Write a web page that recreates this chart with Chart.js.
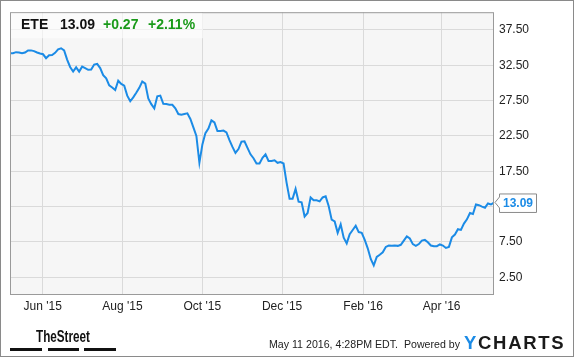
<!DOCTYPE html>
<html>
<head>
<meta charset="utf-8">
<script src="https://cdn.jsdelivr.net/npm/chart.js@4.4.1/dist/chart.umd.min.js"></script>
<style>
  body { margin: 0; background: #fff; }
  canvas { display: block; }
</style>
</head>
<body>
<canvas id="ete_chart" width="575" height="358"></canvas>
<script>
// ETE price, one reading roughly every 2.3 days from May 7 2015 to May 11 2016
const startDate = '2015-05-07';
const endDate = '2016-05-11';
const prices = [
  34.2, 34.2, 34.35, 34.3, 34.2, 34.3, 34.6, 34.6, 34.5, 34.3,
  34.15, 34.05, 33.5, 33.9, 33.95, 34.25, 34.75, 34.9, 34.6, 33.3,
  32.25, 31.6, 32.2, 31.6, 32.3, 32.1, 31.85, 31.9, 32.6, 32.7,
  32.1, 31.1, 30.65, 29.65, 29.35, 29.0, 30.3, 29.85, 29.6, 28.2,
  27.4, 27.95, 28.6, 29.3, 30.2, 29.9, 27.8, 27.0, 26.4, 28.1,
  28.2, 27.05, 27.0, 26.9, 26.9, 26.4, 25.6, 25.5, 25.6, 25.7,
  24.9, 23.7, 22.5, 18.7, 21.3, 22.9, 23.55, 24.7, 24.4, 23.2,
  23.2, 23.25, 23.0, 21.9, 20.95, 20.1, 20.65, 21.7, 21.75, 20.8,
  19.9, 19.35, 18.6, 18.6, 19.4, 19.9, 18.95, 18.95, 19.05, 18.7,
  18.8, 18.6, 15.9, 13.6, 13.6, 15.0, 13.2, 13.1, 11.1, 11.6,
  13.8, 13.4, 13.4, 13.25, 13.8, 13.95, 12.6, 10.65, 10.4, 8.8,
  10.0, 8.1, 7.3, 8.6, 9.2, 9.8, 8.9, 8.8, 7.8, 6.6,
  5.1, 4.2, 5.4, 5.7, 6.05, 6.8, 7.0, 6.95, 7.0, 6.95,
  7.1, 7.7, 8.3, 8.0, 7.2, 6.95, 7.2, 7.7, 7.8, 7.45,
  7.0, 6.9, 6.9, 7.15, 7.0, 6.65, 6.8, 8.15, 8.55, 9.3,
  9.2, 10.1, 10.7, 11.6, 11.45, 12.8, 12.7, 12.5, 12.35, 12.95,
  12.8, 13.09
];
const tickDates = ['2015-06-01', '2015-08-01', '2015-10-01', '2015-12-01', '2016-02-01', '2016-04-01'];
const tickLabels = ["Jun '15", "Aug '15", "Oct '15", "Dec '15", "Feb '16", "Apr '16"];
const yTicks = [2.5, 7.5, 12.5, 17.5, 22.5, 27.5, 32.5, 37.5];

const ticker = 'ETE';
const lastPrice = '13.09';
const change = '+0.27';
const changePct = '+2.11%';
const stamp = 'May 11 2016, 4:28PM EDT.  Powered by';

const DAY = 86400000;
const t0 = Date.parse(startDate);
const totalDays = (Date.parse(endDate) - t0) / DAY;
const step = totalDays / (prices.length - 1);
const points = prices.map((p, i) => ({ x: i * step, y: p }));
const tickDays = tickDates.map(d => (Date.parse(d) - t0) / DAY);

const blue = '#1b8be6';
const green = '#1a9a1a';
const font = 'Liberation Sans, Arial, sans-serif';

const frame = {
  id: 'frame',
  beforeDraw(chart) {
    const c = chart.ctx, a = chart.chartArea;
    c.save();
    c.fillStyle = '#fff';
    c.fillRect(0, 0, chart.width, chart.height);
    c.fillStyle = '#f6f6f6';
    c.fillRect(a.left, a.top, a.right - a.left, a.bottom - a.top);
    c.restore();
  },
  afterDraw(chart) {
    const c = chart.ctx, a = chart.chartArea;
    c.save();
    // plot border and outer border
    c.strokeStyle = '#9a9a9a';
    c.lineWidth = 1;
    c.strokeRect(a.left + 0.5, a.top + 0.5, a.right - a.left - 1, a.bottom - a.top - 1);
    c.strokeStyle = '#8a8a8a';
    c.strokeRect(0.5, 0.5, 573, 356);

    // quote header
    c.fillStyle = 'rgba(255,255,255,0.6)';
    c.fillRect(a.left + 1, a.top + 1, 192, 25);
    c.font = 'bold 14px ' + font;
    c.textBaseline = 'alphabetic';
    c.fillStyle = '#111';
    c.fillText(ticker, 21, 28.5);
    c.fillText(lastPrice, 60, 28.5);
    c.fillStyle = green;
    c.fillText(change, 103, 28.5);
    c.fillText(changePct, 148, 28.5);

    // last price flag on the right axis
    const yl = chart.scales.y.getPixelForValue(prices[prices.length - 1]);
    c.beginPath();
    c.moveTo(499.5, yl - 8.5);
    c.lineTo(499.5, yl - 5.5);
    c.lineTo(495, yl);
    c.lineTo(499.5, yl + 5.5);
    c.lineTo(499.5, yl + 10);
    c.lineTo(536.5, yl + 10);
    c.lineTo(536.5, yl - 8.5);
    c.closePath();
    c.fillStyle = '#fff';
    c.fill();
    c.strokeStyle = '#8a8a8a';
    c.stroke();
    c.font = 'bold 12px ' + font;
    c.fillStyle = blue;
    c.textBaseline = 'middle';
    c.fillText(lastPrice, 503, yl + 1);

    // footer: TheStreet
    c.textBaseline = 'alphabetic';
    c.fillStyle = '#111';
    c.font = 'bold 16px "Liberation Sans Narrow", ' + font;
    c.fillText('TheStreet', 36, 342, 54);
    c.fillRect(10, 348, 32, 3);
    c.fillRect(48, 348, 31, 3);
    c.fillRect(84, 348, 32, 3);

    // footer: stamp and YCHARTS
    c.font = '11px ' + font;
    c.fillStyle = '#222';
    c.fillText(stamp, 269, 348, 191);
    c.font = 'bold 18.5px ' + font;
    let x = 464;
    'YCHARTS'.split('').forEach((ch, i) => {
      c.fillStyle = i === 0 ? blue : '#1a1a1a';
      c.fillText(ch, x, 348.5);
      x += c.measureText(ch).width + 1.7;
    });
    c.restore();
  }
};

const ctx = document.getElementById('ete_chart').getContext('2d');
const chart = new Chart(ctx, {
  type: 'line',
  data: {
    datasets: [{
      data: points,
      borderColor: blue,
      borderWidth: 2,
      pointRadius: 0,
      tension: 0,
      fill: false
    }]
  },
  options: {
    responsive: false,
    animation: false,
    layout: { padding: { left: 10, top: 10, right: 0, bottom: 0 } },
    plugins: {
      legend: { display: false },
      tooltip: { enabled: false }
    },
    scales: {
      x: {
        type: 'linear',
        min: 0,
        max: totalDays,
        afterBuildTicks: s => { s.ticks = tickDays.map(v => ({ value: v })); },
        afterFit: s => { s.height = 63; },
        ticks: {
          callback: (v, i) => tickLabels[i],
          autoSkip: false,
          maxRotation: 0,
          padding: 4,
          color: '#222',
          font: { family: font, size: 12 }
        },
        grid: { color: '#dadada', drawTicks: false },
        border: { display: false }
      },
      y: {
        position: 'right',
        min: 0,
        max: 40,
        afterBuildTicks: s => { s.ticks = yTicks.map(v => ({ value: v })); },
        afterFit: s => { s.width = 81; },
        ticks: {
          callback: v => v.toFixed(2),
          padding: 5,
          color: '#222',
          font: { family: font, size: 12 }
        },
        grid: { color: '#dadada', drawTicks: false },
        border: { display: false }
      }
    }
  },
  plugins: [frame]
});
</script>
</body>
</html>
